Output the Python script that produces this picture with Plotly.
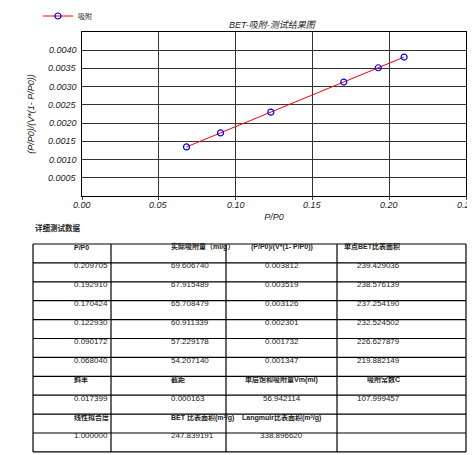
import plotly.graph_objects as go

p_p0 = [0.209705, 0.192910, 0.170424, 0.122930, 0.090172, 0.068040]
ads = ["69.606740", "67.915489", "65.708479", "60.911339", "57.229178", "54.207140"]
bet_y = [0.003812, 0.003519, 0.003126, 0.002301, 0.001732, 0.001347]
single = ["239.429036", "238.576139", "237.254190", "232.524502", "226.627879", "219.882149"]
hdr1 = ["P/P0", "实际吸附量（ml/g）", "(P/P0)/(V*(1- P/P0))", "单点BET比表面积"]
hdr2 = ["斜率", "截距", "单层饱和吸附量Vm(ml)", "吸附常数C"]
val2 = ["0.017399", "0.000163", "56.942114", "107.999457"]
hdr3 = ["线性拟合度", "BET 比表面积(m²/g)", "Langmuir比表面积(m²/g)", ""]
val3 = ["1.000000", "247.839191", "338.896620", ""]

W, H = 475, 455
L, R, T, B = 74, 458, 24, 188
def px(x): return (x - L) / (R - L)
def py(y): return (B - y) / (B - T)

fig = go.Figure(go.Scatter(
    x=p_p0, y=bet_y, mode="lines+markers", name="吸附",
    line=dict(color="red", width=1),
    marker=dict(symbol="circle-open", color="blue", size=6, line=dict(width=1.2))))

font = "Liberation Sans, Noto Sans CJK SC"
fig.update_layout(
    width=W, height=H, margin=dict(l=L, r=W - R, t=T, b=H - B, autoexpand=False),
    paper_bgcolor="white", plot_bgcolor="white",
    font=dict(family=font, size=9, color="#222"),
    showlegend=True,
    legend=dict(x=px(30), y=py(8), xanchor="left", yanchor="middle", font=dict(size=7), bgcolor="rgba(0,0,0,0)"),
    xaxis=dict(range=[0, 0.25], dtick=0.05, showgrid=True, gridcolor="#333", gridwidth=1, automargin=False,
               showline=True, linecolor="black", mirror=True, zeroline=False, ticks="outside", ticklen=3,
               showticklabels=False, title=dict(text="<i>P/P0</i>", standoff=14, font=dict(size=9))),
    yaxis=dict(range=[0, 0.0045], dtick=0.0005, showgrid=True, gridcolor="#333", gridwidth=1, automargin=False,
               showline=True, linecolor="black", mirror=True, zeroline=False, ticks="", showticklabels=False,
               title=dict(text="<i>(P/P0)/(V*(1- P/P0))</i>", standoff=44, font=dict(size=9))),
)
ann = []
for i in range(1, 10):
    v = i * 0.0005
    ann.append(dict(x=0, y=v, xref="paper", yref="y", text=f"<i>{v:.4f}</i>", showarrow=False,
                    xanchor="right", xshift=-3, font=dict(size=9)))
for i in range(6):
    v = i * 0.05
    ann.append(dict(x=v, y=0, xref="x", yref="paper", text=f"<i>{v:.2f}</i>", showarrow=False,
                    yanchor="top", yshift=-2, font=dict(size=9)))
ann.append(dict(x=px(265), y=py(10), xref="paper", yref="paper", text="<i>BET-吸附-测试结果图</i>",
                showarrow=False, font=dict(size=9)))
ann.append(dict(x=px(25), y=py(227), xref="paper", yref="paper", text="<b>详细测试数据</b>",
                showarrow=False, xanchor="left", font=dict(size=7.5)))

cols = [25, 103, 218, 329, 458]
top, rh = 236, 18.9
rows = [(hdr1, True)] + [([f"{p_p0[i]:.6f}", ads[i], f"{bet_y[i]:.6f}", single[i]], False) for i in range(6)] \
       + [(hdr2, True), (val2, False), (hdr3, True), (val3, False)]
shapes = []
n = len(rows)
for r in range(n + 1):
    yy = top + r * rh
    shapes.append(dict(type="line", xref="paper", yref="paper", x0=px(cols[0]), x1=px(cols[-1]),
                       y0=py(yy), y1=py(yy), line=dict(color="black", width=1.2)))
for c in cols:
    shapes.append(dict(type="line", xref="paper", yref="paper", x0=px(c), x1=px(c),
                       y0=py(top), y1=py(top + n * rh), line=dict(color="black", width=1.2)))
for r, (cells, bold) in enumerate(rows):
    yc = top + (r + 0.5) * rh
    for c, t in enumerate(cells):
        if not t:
            continue
        ann.append(dict(x=px((cols[c] + cols[c + 1]) / 2), y=py(yc), xref="paper", yref="paper",
                        text=f"<b>{t}</b>" if bold else t, showarrow=False,
                        font=dict(size=7 if bold else 8, color="#222")))
fig.update_layout(annotations=ann, shapes=shapes)
fig.write_html("out.html")
